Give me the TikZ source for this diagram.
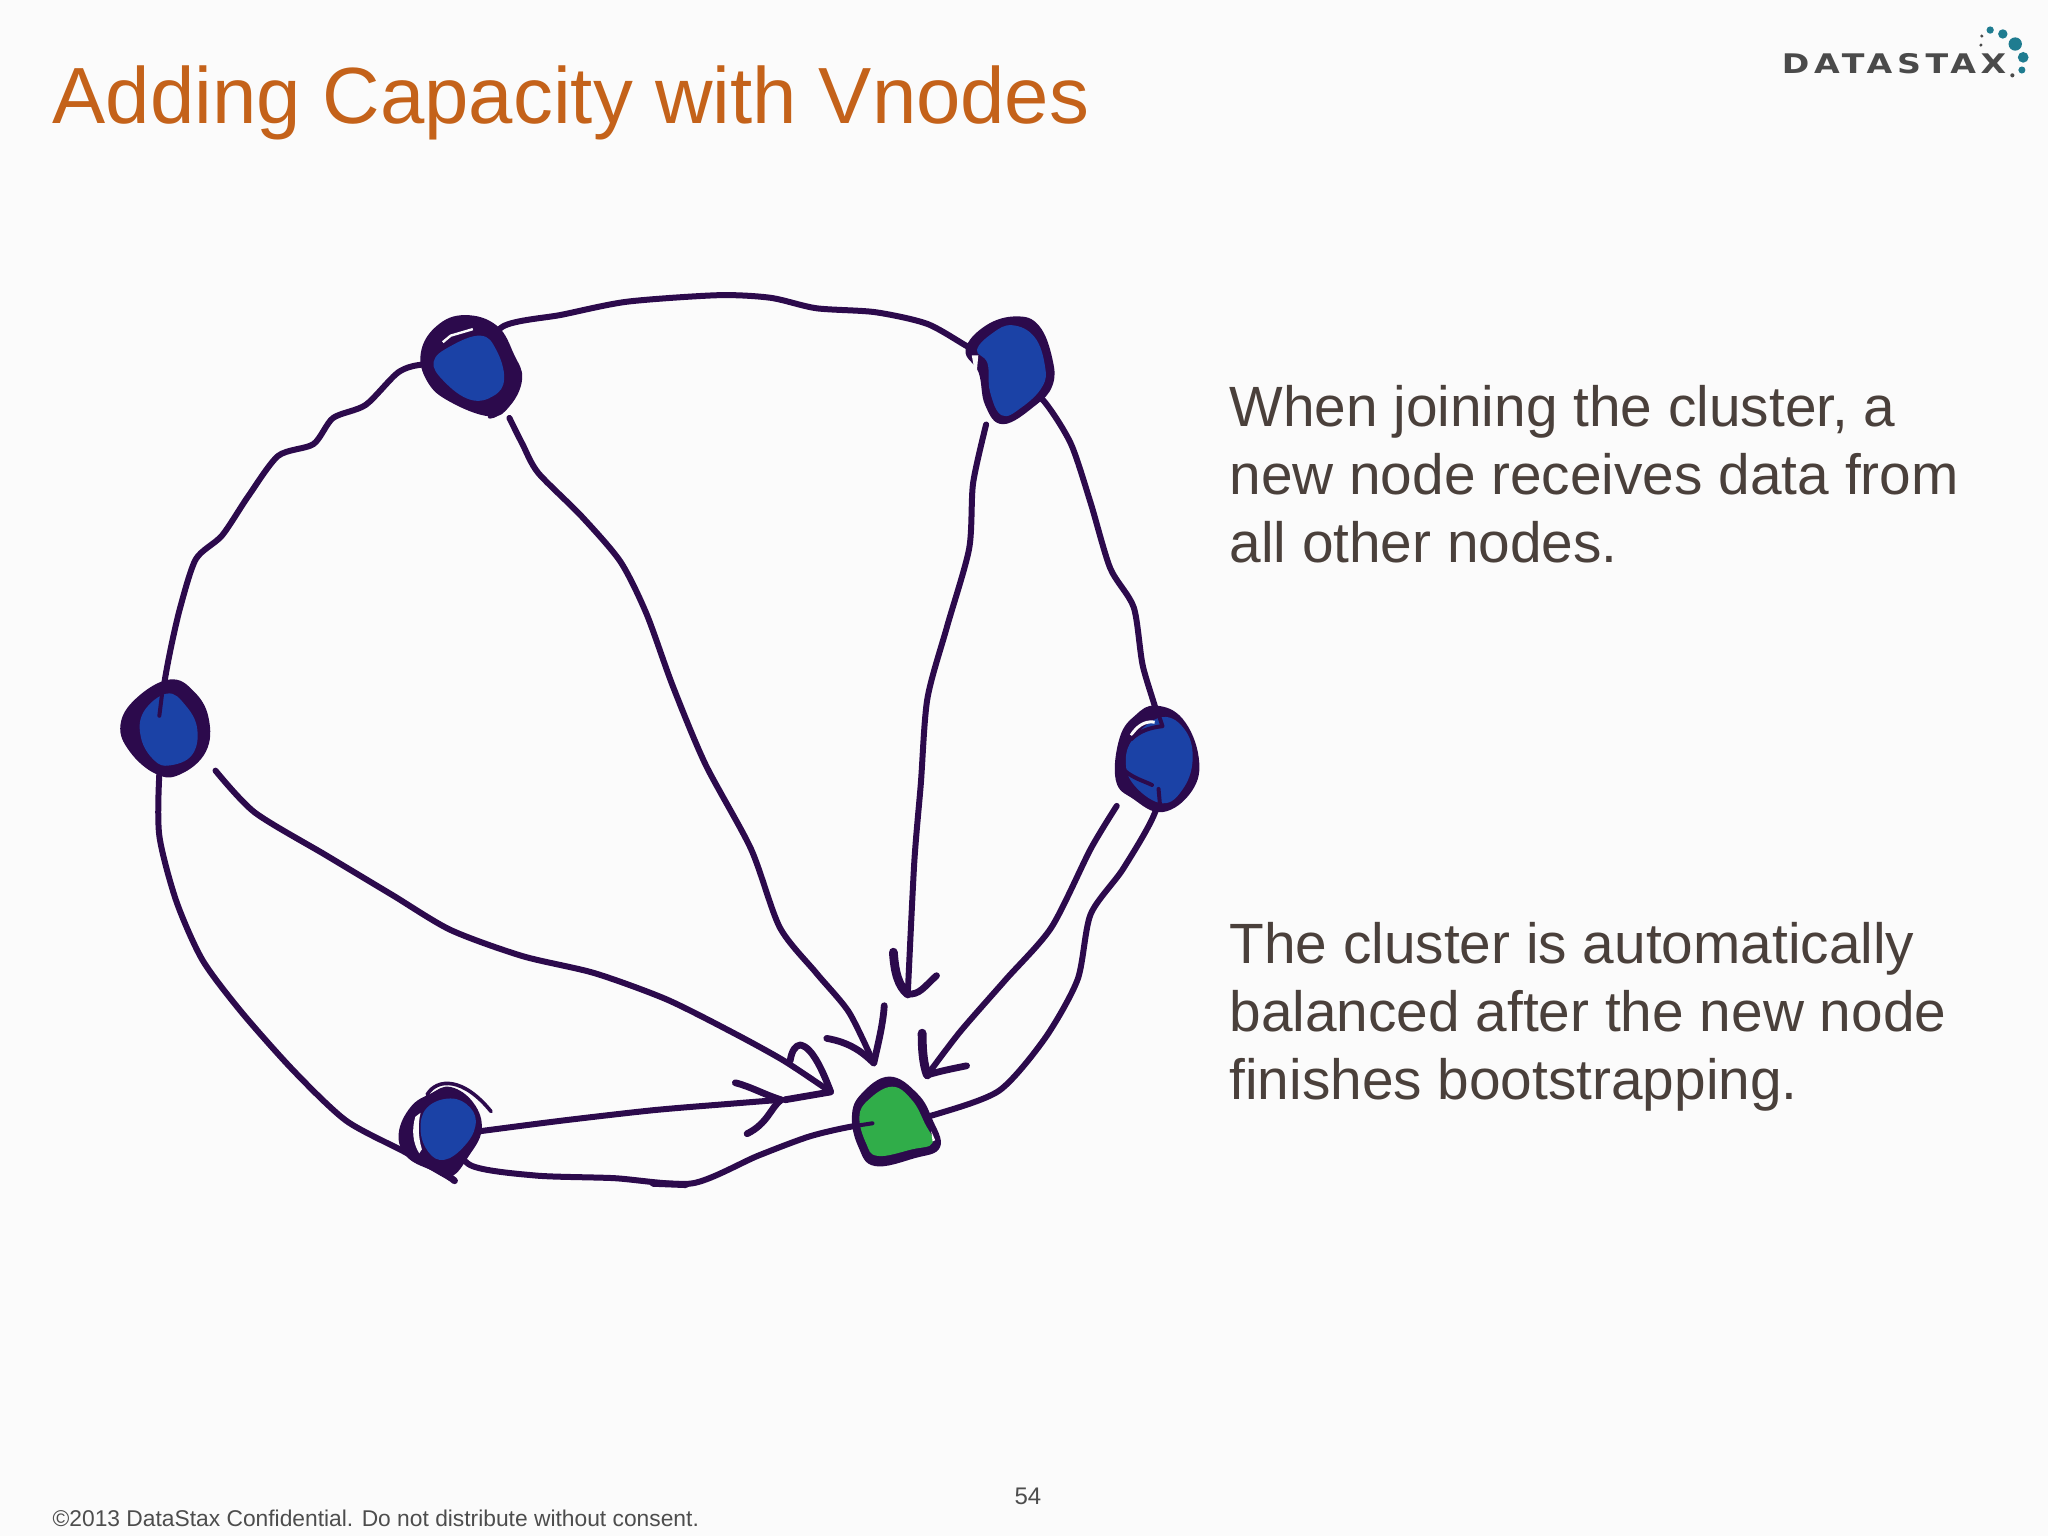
\documentclass[tikz,border=0pt]{standalone}
\usepackage{fontspec}
\setmainfont{Liberation Sans}
\newfontfamily\logofont{DejaVu Sans}
\definecolor{ink}{HTML}{2C0A4C}
\definecolor{nodeblue}{HTML}{1B42A6}
\definecolor{nodegreen}{HTML}{30AD49}
\definecolor{paper}{HTML}{FBFBFB}
\definecolor{titlecol}{HTML}{C4621A}
\definecolor{bodycol}{HTML}{4A403B}
\definecolor{footcol}{HTML}{4D4D4D}
\definecolor{teal}{HTML}{1F7C90}
\definecolor{logogray}{HTML}{4A4A4A}
\tikzset{
  wob/.style={draw=ink,line width=3pt,line cap=round,line join=round},
  barb/.style={draw=ink,line width=3.4pt,line cap=round,line join=round},
  ring/.style={fill=ink,draw=ink,line width=1pt,line join=round},
  bluefill/.style={fill=nodeblue},
  greenfill/.style={fill=nodegreen},
  body/.style={anchor=north west,inner sep=0pt,align=left,text=bodycol,font=\fontsize{28.4}{34}\selectfont},
  tdot/.style={fill=teal},
  gdot/.style={fill=logogray}
}
\begin{document}
\begin{tikzpicture}[x=0.65306pt,y=-0.65306pt]
\useasboundingbox (0,0) rectangle (1568,1176);
\fill[paper] (0,0) rectangle (1568,1176);
% node centres
\coordinate (n1) at (361,281);
\coordinate (n2) at (774,283);
\coordinate (n3) at (886,580);
\coordinate (n4) at (126,557);
\coordinate (n5) at (340,864);
\coordinate (ng) at (685,860);
% free ends
\coordinate (s1) at (390,320);
\coordinate (t1) at (669,814);
\coordinate (s2) at (755,325);
\coordinate (t2) at (695,761);
\coordinate (s3) at (855,617);
\coordinate (t3) at (710,823);
\coordinate (s4) at (165,590);
\coordinate (t4) at (636,836);
\coordinate (s5) at (368,866);
\coordinate (t5) at (598,842);
% ring edges
\draw[wob] plot[smooth,tension=.45] coordinates {(n1) (385,250) (430,241) (480,231) (550,226) (590,228) (625,236) (670,239) (710,248) (742,266) (n2)};
\draw[wob] plot[smooth,tension=.45] coordinates {(n1) (325,279) (305,285) (280,310) (255,320) (240,340) (213,349) (190,380) (170,410) (150,428) (138,465) (130,500) (125,530) (n4)};
\draw[wob] plot[smooth,tension=.45] coordinates {(n2) (800,308) (820,340) (835,385) (850,435) (868,465) (875,510) (888,555) (n3)};
\draw[wob] plot[smooth,tension=.45] coordinates {(n3) (885,620) (860,665) (835,700) (825,750) (800,795) (765,835) (717,853) (ng)};
\draw[wob] plot[smooth,tension=.45] coordinates {(n4) (122,592) (122,640) (135,690) (155,735) (185,775) (225,820) (265,858) (310,882) (345,902)};
\draw[wob] plot[smooth,tension=.45] coordinates {(ng) (655,862) (620,870) (580,885) (530,906) (470,902) (410,900) (360,892) (n5)};
% spokes
\draw[wob] plot[smooth,tension=.45] coordinates {(s1) (400,340) (412,362) (445,395) (475,430) (495,470) (515,525) (540,585) (575,650) (597,710) (625,745) (650,775) (t1)};
\draw[wob] plot[smooth,tension=.45] coordinates {(s2) (745,370) (742,420) (725,480) (710,535) (705,600) (700,660) (t2)};
\draw[wob] plot[smooth,tension=.45] coordinates {(s3) (835,650) (805,710) (770,750) (735,790) (t3)};
\draw[wob] plot[smooth,tension=.45] coordinates {(s4) (195,622) (250,655) (300,685) (345,712) (400,732) (455,745) (510,765) (560,790) (600,812) (t4)};
\draw[wob] plot[smooth,tension=.45] coordinates {(s5) (430,858) (500,850) (560,845) (t5)};
% arrow barbs
\draw[barb] (633,795) .. controls (650,798) and (660,805) .. (t1) .. controls (672,800) and (676,785) .. (677,770);
\draw[barb,line width=4.4pt] (684,729) .. controls (685,745) and (688,755) .. (t2);
\draw[barb] (t2) .. controls (704,762) and (708,755) .. (717,747);
\draw[barb,line width=4.4pt] (706,791) .. controls (706,805) and (707,815) .. (t3);
\draw[barb] (t3) .. controls (720,820) and (730,818) .. (740,816);
\draw[barb] (605,812) .. controls (606,805) and (609,800) .. (613,800) .. controls (622,802) and (630,820) .. (t4) -- (601,842);
\draw[barb] (563,829) .. controls (575,832) and (585,838) .. (t5) .. controls (590,848) and (588,860) .. (572,868);
\draw[barb] (500,906) -- (525,907);
\draw[barb] (330,890) -- (348,904);
% blobs
\path[ring] plot[smooth cycle,tension=.7] coordinates {(356,242) (380,250) (393,272) (399,290) (390,310) (375,318) (345,307) (328,292) (323,270) (335,250)};
\draw[wob,line width=2pt] (384,305) .. controls (385,312) and (383,318) .. (375,319);
\path[bluefill] plot[smooth cycle,tension=.7] coordinates {(368,257) (380,268) (386,290) (378,303) (360,306) (340,292) (332,277) (345,265)};
\draw[draw=paper,line width=1.2pt] (339,262) -- (345,257) -- (362,252);
\path[ring] plot[smooth cycle,tension=.7] coordinates {(778,243) (795,250) (805,275) (805,295) (792,310) (768,324) (755,310) (750,285) (740,268) (755,250)};
\path[bluefill] plot[smooth cycle,tension=.7] coordinates {(775,249) (792,258) (800,280) (798,296) (782,312) (767,318) (758,300) (756,278) (748,268) (760,255)};
\fill[paper] (744,272) -- (749,272) -- (748,283) -- (746,283) -- cycle;
\path[ring] plot[smooth cycle,tension=.7] coordinates {(885,541) (905,551) (917,580) (912,605) (890,621) (868,611) (855,597) (858,565) (870,548)};
\path[bluefill] plot[smooth cycle,tension=.7] coordinates {(890,549) (908,560) (913,583) (905,605) (890,615) (870,603) (862,585) (868,565)};
\draw[draw=paper,line width=1.5pt] (866,563) .. controls (872,553) and (880,552) .. (884,553);
\draw[wob,line width=2pt] (866,566) .. controls (872,560) and (880,557) .. (890,556) -- (888,550);
\draw[wob,line width=2pt] (861,590) .. controls (868,596) and (876,598) .. (882,601);
\draw[wob,line width=2pt] (887,604) -- (888,615);
\path[ring] plot[smooth cycle,tension=.7] coordinates {(130,521) (148,530) (159,550) (157,575) (138,592) (120,592) (100,575) (93,555) (105,535)};
\path[bluefill] plot[smooth cycle,tension=.7] coordinates {(128,531) (142,540) (151,558) (147,578) (130,586) (118,582) (108,565) (110,545)};
\draw[wob,line width=2pt] (124,532) -- (122,548);
\path[ring] plot[smooth cycle,tension=.7] coordinates {(345,833) (362,845) (368,865) (358,885) (345,900) (330,895) (312,885) (306,868) (315,848) (330,838)};
\fill[paper] (318,855) .. controls (315,865) and (316,875) .. (321,883) -- (323,880) .. controls (320,870) and (320,860) .. (322,852) -- cycle;
\path[bluefill] plot[smooth cycle,tension=.7] coordinates {(345,841) (360,848) (364,862) (355,878) (340,888) (328,882) (322,865) (327,848)};
\draw[wob,line width=1.8pt] (327,838) .. controls (335,825) and (355,825) .. (376,851);
\path[ring] plot[smooth cycle,tension=.7] coordinates {(681,825) (702,838) (713,857) (719,878) (700,886) (670,892) (658,878) (653,855) (660,838)};
\path[greenfill] plot[smooth cycle,tension=.7] coordinates {(683,832) (698,842) (708,860) (714,875) (698,880) (672,885) (663,875) (658,855) (665,842)};
\draw[wob,line width=2pt] (655,862) -- (668,860);
\fill[paper] (713,866) -- (716,873) -- (714,874) -- cycle;
% text
\node (title) [anchor=base west,inner sep=0pt,text=titlecol,font=\fontsize{39.85}{48}\selectfont] at (40,94.5) {Adding Capacity with Vnodes};
\node (b1) [body] at (941,295) {When joining the cluster, a\\new node receives data from\\all other nodes.};
\node (b2) [body] at (941,706) {The cluster is automatically\\balanced after the new node\\finishes bootstrapping.};
\node (foot) [anchor=base west,inner sep=0pt,text=footcol,font=\fontsize{11.4}{14}\selectfont] at (40,1169) {©2013 DataStax Confidential. Do not distribute without consent.};
\node (page) [anchor=base,inner sep=0pt,text=footcol,font=\fontsize{12}{14}\selectfont] at (787,1152) {54};
% logo
\node (logo) [anchor=base west,inner sep=0pt,text=logogray] at (1364,56) {\logofont\fontsize{13.5}{16}\selectfont\addfontfeature{LetterSpace=14}\bfseries\scalebox{1.23}[1]{DATASTAX}};
\fill[tdot] (1523.7,23) circle (2.8);
\fill[tdot] (1533.4,26) circle (3.6);
\fill[tdot] (1542.9,33.7) circle (5.1);
\fill[tdot] (1549,43.9) circle (4.1);
\fill[tdot] (1548,53.6) circle (2.7);
\fill[gdot] (1540.7,57.7) circle (1.6);
\fill[gdot] (1517.3,27.6) circle (1.3);
\fill[gdot] (1516.6,34.5) circle (1.3);
\end{tikzpicture}
\end{document}
